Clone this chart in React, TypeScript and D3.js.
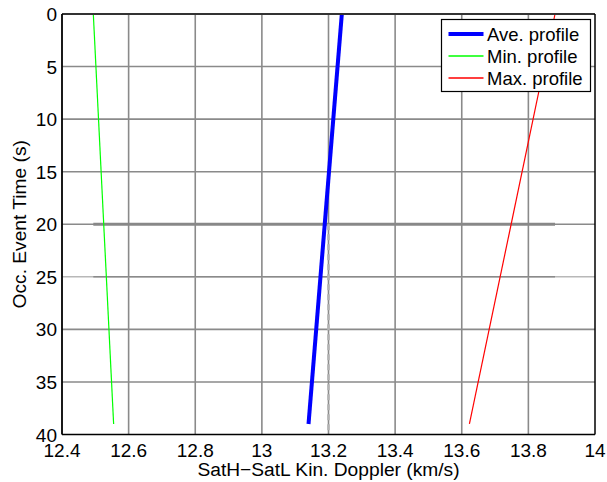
import React from "react";
import * as d3 from "d3";

// Occultation event time (s) at the two ends of each profile
const eventTime = [0, 39];
// SatH−SatL kinematic Doppler (km/s) at those times
const aveProfile = [13.24, 13.14];
const minProfile = [12.494, 12.555];
const maxProfile = [13.88, 13.623];

const xTicks = [12.4, 12.6, 12.8, 13, 13.2, 13.4, 13.6, 13.8, 14];
const yTicks = [0, 5, 10, 15, 20, 25, 30, 35, 40];
const xTickLabels = ["12.4", "12.6", "12.8", "13", "13.2", "13.4", "13.6", "13.8", "14"];

// Reference marks: mid-occultation time and central Doppler value
const refTime = 20;
const refSpanTime = 25;
const refDoppler = 13.2;

const legendItems = ["Ave. profile", "Min. profile", "Max. profile"];

const W = 607;
const H = 482;
const left = 62;
const right = 595;
const top = 14;
const bottom = 434.5;
const font = "'Liberation Sans', Arial, Helvetica, sans-serif";

export default function App() {
  const x = d3.scaleLinear().domain([12.4, 14]).range([left, right]);
  const y = d3.scaleLinear().domain([0, 40]).range([top, bottom]);

  const line = d3
    .line<[number, number]>()
    .x((d) => x(d[0]))
    .y((d) => y(d[1]));
  const pts = (vals: number[]) => vals.map((v, i) => [v, eventTime[i]] as [number, number]);

  const spanLo = minProfile[0];
  const spanHi = maxProfile[0];
  const grid = "#8a8a8a";

  const series = [
    { name: legendItems[0], vals: aveProfile, color: "#0000ff", width: 4 },
    { name: legendItems[1], vals: minProfile, color: "#00ff00", width: 1.2 },
    { name: legendItems[2], vals: maxProfile, color: "#ff0000", width: 1.2 },
  ];

  const lgX = 441.5;
  const lgY = 19.5;
  const lgW = 149;
  const lgH = 72;

  return (
    <svg
      width={W}
      height={H}
      style={{ position: "absolute", left: 0, top: 0, background: "#fff" }}
      fontFamily={font}
    >
      <rect x={0} y={0} width={W} height={H} fill="#fff" />
      {/* grid */}
      {xTicks.slice(1, -1).map((t) => (
        <line key={"gx" + t} x1={x(t)} x2={x(t)} y1={top} y2={bottom} stroke={grid} strokeWidth={1.6} />
      ))}
      {yTicks.slice(1, -1).map((t) => (
        <line
          key={"gy" + t}
          x1={left}
          x2={right}
          y1={y(t)}
          y2={y(t)}
          stroke={t === refSpanTime ? "#b8b8b8" : grid}
          strokeWidth={1.6}
        />
      ))}
      {/* reference marks */}
      <line x1={x(spanLo)} x2={x(spanHi)} y1={y(refTime)} y2={y(refTime)} stroke="#888" strokeWidth={3} />
      <line x1={x(spanLo)} x2={x(spanHi)} y1={y(refSpanTime)} y2={y(refSpanTime)} stroke="#8a8a8a" strokeWidth={1.6} />
      <line
        x1={x(refDoppler)}
        x2={x(refDoppler)}
        y1={y(refTime)}
        y2={bottom}
        stroke="#b4b4b4"
        strokeWidth={2.6}
        strokeDasharray="6 4"
      />

      {/* profiles */}
      {series
        .slice()
        .reverse()
        .map((s) => (
          <path key={s.name} d={line(pts(s.vals)) || ""} fill="none" stroke={s.color} strokeWidth={s.width} />
        ))}

      {/* frame */}
      <line x1={left} x2={right} y1={top} y2={top} stroke="#333" strokeWidth={1.8} />
      <line x1={right} x2={right} y1={top} y2={bottom} stroke="#000" strokeWidth={1.5} />
      <line x1={left} x2={right} y1={bottom} y2={bottom} stroke="#000" strokeWidth={1.5} />
      <line x1={left} x2={left} y1={top} y2={bottom} stroke="#000" strokeWidth={1.8} />

      {/* tick labels */}
      {xTicks.map((t, i) => (
        <text key={"xt" + t} x={x(t)} y={457} fontSize={19} textAnchor="middle" fill="#000">
          {xTickLabels[i]}
        </text>
      ))}
      {yTicks.map((t) => (
        <text key={"yt" + t} x={57} y={y(t) + 7} fontSize={19} textAnchor="end" fill="#000">
          {t}
        </text>
      ))}

      {/* axis titles */}
      <text x={(left + right) / 2} y={476} fontSize={19.2} textAnchor="middle" fill="#000">
        SatH−SatL Kin. Doppler (km/s)
      </text>
      <text
        transform={`translate(26, ${(top + bottom) / 2}) rotate(-90)`}
        fontSize={19.2}
        textAnchor="middle"
        fill="#000"
      >
        Occ. Event Time (s)
      </text>

      {/* legend */}
      <rect x={lgX} y={lgY} width={lgW} height={lgH} fill="#fff" stroke="#000" strokeWidth={1.2} />
      {series.map((s, i) => {
        const cy = Math.round(lgY + 14 + i * 22);
        return (
          <g key={"lg" + s.name}>
            <rect
              x={lgX + 7}
              y={cy - Math.max(s.width, 1.5) / 2}
              width={35}
              height={Math.max(s.width, 1.5)}
              fill={s.color}
            />
            <text x={lgX + 45.5} y={cy + 6.5} fontSize={18.5} fill="#000">
              {s.name}
            </text>
          </g>
        );
      })}
    </svg>
  );
}
